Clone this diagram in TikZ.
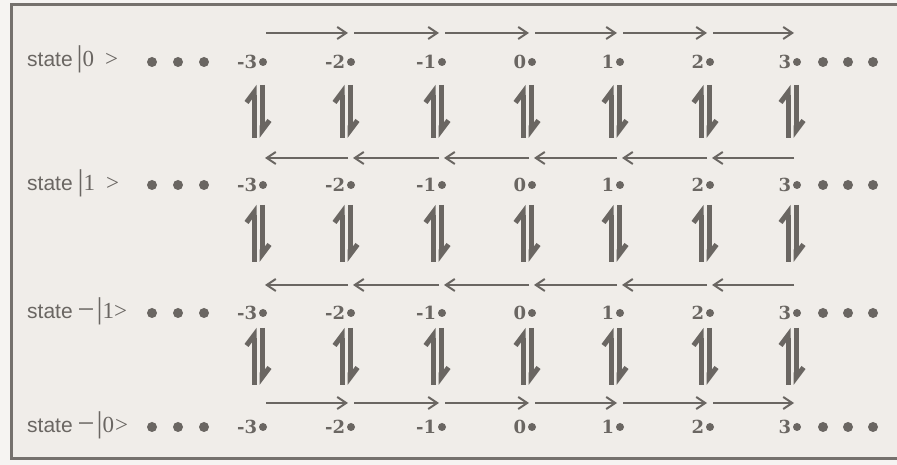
\documentclass[tikz,border=0pt]{standalone}
\usepackage{fontspec}
\setmainfont{Liberation Serif}
\newfontfamily\statefont{Liberation Sans}
\newfontfamily\numfont{DejaVu Serif}
\usetikzlibrary{arrows.meta}

\definecolor{ink}{HTML}{6A6662}
\definecolor{paper}{HTML}{F0EDE9}
\definecolor{margin}{HTML}{F6F4F2}
\definecolor{framec}{HTML}{75716D}

\newcommand{\tallbar}{{\fontsize{30}{30}\selectfont|}}
\newcommand{\longminus}{{\fontsize{30}{30}\selectfont\raisebox{-1pt}{−}}}

\begin{document}
\begin{tikzpicture}[
  x=1pt, y=1pt,
  lbl/.style={anchor=base west, inner sep=0pt, text=ink, font=\fontsize{23}{23}\selectfont},
  site/.style={circle, fill=ink, inner sep=0pt, minimum size=8pt},
  far/.style={circle, fill=ink, inner sep=0pt, minimum size=10pt},
  num/.style={text=ink, inner sep=0pt, font=\numfont\bfseries\fontsize{18}{18}\selectfont},
  hop/.style={draw=ink, line width=2pt, -{Straight Barb[length=9pt, width=12pt]}},
  flip/.style={draw=ink, line width=5pt, -{Straight Barb[harpoon, length=10pt, width=15pt]}}
]

% page, background and the open frame (right side runs off the page)
\useasboundingbox (0,0) rectangle (897,465);
\fill[margin] (0,0) rectangle (897,465);
\fill[paper] (11,6) rectangle (900,460);
\draw[framec, line width=3pt] (900,6) -- (11,6) -- (11,460) -- (900,460);

% --- four rows of sites -3 ... 3 with the dots on both sides ---
\foreach \r/\y in {0/403, 1/280, 2/152, 3/38}{
  \foreach \x/\n [count=\c] in {263/-3, 351/-2, 442/-1, 532/0, 620/1, 710/2, 797/3}
    \node[site, label={[num, label distance=1.5pt]left:\n}] (r\r-\c) at (\x,\y) {};
  \foreach \x [count=\c] in {152,178,204}
    \node[far] (r\r-l\c) at (\x,\y) {};
  \foreach \x [count=\c] in {823,848,873}
    \node[far] (r\r-e\c) at (\x,\y) {};
}

% --- state labels ---
\node[lbl] (s0) at (27,398) {{\statefont\fontsize{21}{21}\selectfont state}\hspace{4pt}\tallbar0\hspace{11pt}>};
\node[lbl] (s1) at (27,274) {{\statefont\fontsize{21}{21}\selectfont state}\hspace{5pt}\tallbar1\hspace{11pt}>};
\node[lbl] (s2) at (27,146) {{\statefont\fontsize{21}{21}\selectfont state}\hspace{5pt}\longminus\hspace{2pt}\tallbar1>};
\node[lbl] (s3) at (27,32) {{\statefont\fontsize{21}{21}\selectfont state}\hspace{5pt}\longminus\hspace{2pt}\tallbar0\hspace{1pt}>};

% --- hops along each row: right for |0>, -|0>, left for |1>, -|1> ---
\foreach \r/\dy in {0/29, 3/24}
  \foreach \c [remember=\c as \p (initially 1)] in {2,...,7}
    \draw[hop, shorten <=3pt, shorten >=3pt] ([yshift=\dy pt]r\r-\p.center) -- ([yshift=\dy pt]r\r-\c.center);
\foreach \r/\dy in {1/27, 2/28}
  \foreach \c [remember=\c as \p (initially 1)] in {2,...,7}
    \draw[hop, shorten <=3pt, shorten >=2pt] ([yshift=\dy pt]r\r-\c.center) -- ([yshift=\dy pt]r\r-\p.center);

% --- up/down harpoon pairs between neighbouring rows ---
\foreach \a/\b/\st/\sb in {0/1/23/47, 1/2/20/51, 2/3/15/42}
  \foreach \c in {1,...,7}{
    \draw[flip, shorten <=\sb pt, shorten >=\st pt] ([xshift=-9pt]r\b-\c.center) -- ([xshift=-9pt]r\a-\c.center);
    \draw[flip, shorten <=\st pt, shorten >=\sb pt] ([xshift=-1pt]r\a-\c.center) -- ([xshift=-1pt]r\b-\c.center);
  }

\end{tikzpicture}
\end{document}
